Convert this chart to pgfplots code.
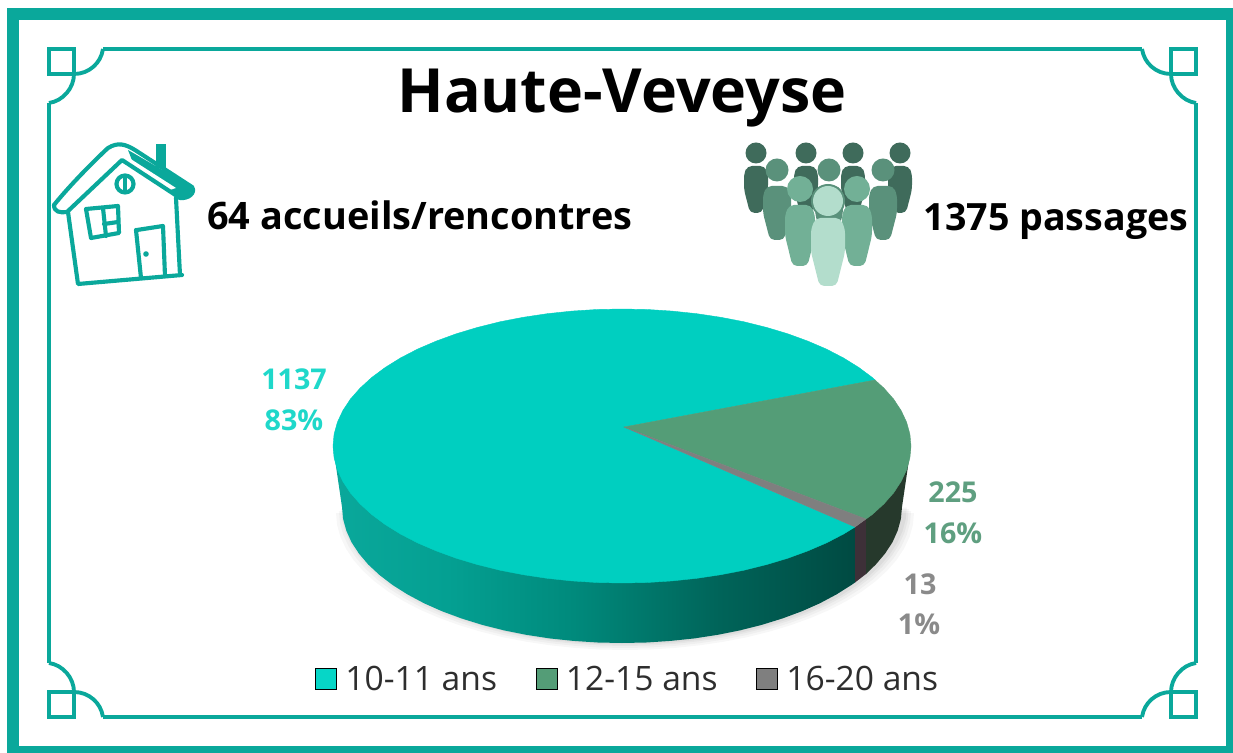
\documentclass[border=0pt]{standalone}
\usepackage{pgfplots}
\pgfplotsset{compat=1.18}
\usepackage{pgfplotstable}
\usepackage{fontspec}
\setmainfont{Open Sans}
\definecolor{frameT}{HTML}{0AA89B}
\definecolor{cTeal}{HTML}{00CFC0}
\definecolor{cLeg}{HTML}{06D6C7}
\definecolor{cGreen}{HTML}{549D77}
\definecolor{cGray}{HTML}{7F7F7F}
\definecolor{lTeal}{HTML}{1FD8CA}
\definecolor{lGreen}{HTML}{5F9F80}
\definecolor{lGray}{HTML}{8A8A8A}
\definecolor{pA}{HTML}{3F6B5B}
\definecolor{pB}{HTML}{5A917B}
\definecolor{pC}{HTML}{72B096}
\definecolor{pD}{HTML}{B3DDCC}
\definecolor{sideA}{HTML}{04A092}
\definecolor{sideB}{HTML}{008A7C}
\definecolor{sideC}{HTML}{006459}
\definecolor{sideD}{HTML}{004A42}
\definecolor{sideGray}{HTML}{3D3038}
\definecolor{sideGreen}{HTML}{26392C}
\pgfdeclarehorizontalshading{sideteal}{100bp}{
 color(0bp)=(frameT);
 color(25bp)=(frameT);
 color(36bp)=(sideA);
 color(48bp)=(sideB);
 color(62bp)=(sideC);
 color(75bp)=(sideD);
 color(100bp)=(sideD)}
\pgfplotstableread{
x y
911 446
909.9 457.9
906.6 469.8
901.1 481.5
893.6 492.9
883.9 503.9
872.3 514.5
858.7 524.6
843.4 534.1
826.4 542.9
807.8 550.9
787.8 558.2
766.5 564.6
744.1 570.2
720.8 574.7
696.8 578.3
672.2 580.9
647.2 582.5
622 583
596.8 582.5
571.8 580.9
547.2 578.3
523.2 574.7
499.9 570.2
477.5 564.6
456.2 558.2
436.2 550.9
417.6 542.9
400.6 534.1
385.3 524.6
371.7 514.5
360.1 503.9
350.4 492.9
342.9 481.5
337.4 469.8
334.1 457.9
333 446
}\halfellipse
\newcommand\person[7]{%
 \fill[#7] (#1,#2) circle (#3);
 \fill[#7,rounded corners=3.5] ({#1-0.72*#4},#5) -- ({#1+0.72*#4},#5) -- ({#1+#4},{#5+0.16*(#6-#5)}) -- ({#1+#4},{#5+0.5*(#6-#5)}) -- ({#1+0.5*#4},#6) -- ({#1-0.5*#4},#6) -- ({#1-#4},{#5+0.5*(#6-#5)}) -- ({#1-#4},{#5+0.16*(#6-#5)}) -- cycle;}
\begin{document}
\begin{tikzpicture}
\useasboundingbox (0,0) rectangle (924.75pt,564.75pt);
\fill[white] (0,0) rectangle (924.75pt,564.75pt);
\begin{axis}[
 at={(0,0)},anchor=south west,
 scale only axis,width=924.75pt,height=564.75pt,
 xmin=0,xmax=1233,ymin=0,ymax=753,y dir=reverse,
 axis lines=none,clip=false,
 legend columns=3,
 legend cell align=left,
 legend style={at={(axis cs:628,679)},anchor=center,draw=none,fill=none,font=\fontsize{25.2}{28}\selectfont,text=black!82,
   /tikz/every even column/.append style={column sep=27pt},
   /tikz/every odd column/.append style={column sep=4.5pt},inner sep=0pt},
 legend image code/.code={\fill[#1] (0pt,-7.8pt) rectangle (15.7pt,7.8pt);},
]
% soft shadow
\addplot[forget plot,fill=black,opacity=.03,draw=none] table[x expr=625+(\thisrow{x}-622)*1.000,y expr=\thisrow{y}+67] {\halfellipse};
\addplot[forget plot,fill=black,opacity=.03,draw=none] table[x expr=625+(\thisrow{x}-622)*0.990,y expr=\thisrow{y}+65] {\halfellipse};
\addplot[forget plot,fill=black,opacity=.035,draw=none] table[x expr=625+(\thisrow{x}-622)*0.982,y expr=\thisrow{y}+63] {\halfellipse};
\addplot[forget plot,fill=black,opacity=.04,draw=none] table[x expr=625+(\thisrow{x}-622)*0.975,y expr=\thisrow{y}+61.5] {\halfellipse};
% sides
\addplot[forget plot,draw=none,shade,shading=sideteal] coordinates {(333,446)(342,507)(343.1,518.9)(346.3,530.6)(351.5,542.2)(358.9,553.5)(368.2,564.5)(379.5,575)(392.6,585)(407.5,594.4)(424,603.2)(442,611.2)(461.4,618.4)(482,624.8)(503.7,630.3)(526.2,634.8)(549.5,638.4)(573.4,640.9)(597.6,642.5)(622,643)(646.4,642.5)(670.6,640.9)(694.5,638.4)(717.8,634.8)(740.3,630.3)(762,624.8)(782.6,618.4)(802,611.2)(820,603.2)(836.5,594.4)(851.4,585)(855,582.5)(855,527)} -- cycle;
\addplot[forget plot,draw=none,fill=sideGray] coordinates {(866,519)(855,527)(855,582.5)(866,574)} -- cycle;
\addplot[forget plot,draw=none,fill=sideGreen] coordinates {(911,446)(902,507)(900.9,518.9)(897.7,530.6)(892.5,542.2)(885.1,553.5)(875.8,564.5)(866,574)(866,519)} -- cycle;
% top faces: 10-11 ans 1137, 12-15 ans 225, 16-20 ans 13
\addplot[forget plot,fill=cTeal,draw=cTeal,line width=.3pt] coordinates {(624,427)(855,527)(843.4,534.1)(826.4,542.9)(807.8,550.9)(787.8,558.2)(766.5,564.6)(744.1,570.2)(720.8,574.7)(696.8,578.3)(672.2,580.9)(647.2,582.5)(622,583)(596.8,582.5)(571.8,580.9)(547.2,578.3)(523.2,574.7)(499.9,570.2)(477.5,564.6)(456.2,558.2)(436.2,550.9)(417.6,542.9)(400.6,534.1)(385.3,524.6)(371.7,514.5)(360.1,503.9)(350.4,492.9)(342.9,481.5)(337.4,469.8)(334.1,457.9)(333,446)(334.1,434.1)(337.4,422.2)(342.9,410.5)(350.4,399.1)(360.1,388.1)(371.7,377.5)(385.3,367.4)(400.6,357.9)(417.6,349.1)(436.2,341.1)(456.2,333.8)(477.5,327.4)(499.9,321.8)(523.2,317.3)(547.2,313.7)(571.8,311.1)(596.8,309.5)(622,309)(647.2,309.5)(672.2,311.1)(696.8,313.7)(720.8,317.3)(744.1,321.8)(766.5,327.4)(787.8,333.8)(807.8,341.1)(826.4,349.1)(843.4,357.9)(858.7,367.4)(872.3,377.5)(875,380)} -- cycle;
\addplot[forget plot,fill=cGreen,draw=cGreen,line width=.3pt] coordinates {(624,427)(875,380)(883.9,388.1)(893.6,399.1)(901.1,410.5)(906.6,422.2)(909.9,434.1)(911,446)(909.9,457.9)(906.6,469.8)(901.1,481.5)(893.6,492.9)(883.9,503.9)(872.3,514.5)(866,519)} -- cycle;
\addplot[forget plot,fill=cGray,draw=cGray,line width=.2pt] coordinates {(624,427)(866,519)(855,527)} -- cycle;
\addlegendimage{fill=cLeg}\addlegendentry{10-11 ans}
\addlegendimage{fill=cGreen}\addlegendentry{12-15 ans}
\addlegendimage{fill=cGray}\addlegendentry{16-20 ans}
% texts
\node[font=\fontsize{45.7}{54}\selectfont\bfseries] at (axis cs:622,98) {Haute-Veveyse};
\node[anchor=base,font=\fontsize{28.4}{32}\selectfont\bfseries] at (axis cs:420,229) {64 accueils/rencontres};
\node[anchor=base,font=\fontsize{28.2}{32}\selectfont\bfseries] at (axis cs:1056,230) {1375 passages};
\node[font=\fontsize{21.5}{24}\selectfont\bfseries,text=lTeal] at (axis cs:294,379) {1137};
\node[font=\fontsize{21.5}{24}\selectfont\bfseries,text=lTeal] at (axis cs:294,420) {83\%};
\node[font=\fontsize{21.5}{24}\selectfont\bfseries,text=lGreen] at (axis cs:953,492) {225};
\node[font=\fontsize{21.5}{24}\selectfont\bfseries,text=lGreen] at (axis cs:953,533) {16\%};
\node[font=\fontsize{21.5}{24}\selectfont\bfseries,text=lGray] at (axis cs:920,584) {13};
\node[font=\fontsize{21.5}{24}\selectfont\bfseries,text=lGray] at (axis cs:919,624) {1\%};
\end{axis}
% decoration, in pixel coordinates from the top left corner
\begin{scope}[shift={(0,564.75pt)},x=.75pt,y=-.75pt]
 % outer frame
 \draw[frameT,line width=9pt] (13,14) rectangle (1232,752);
 % inner frame
 \begin{scope}[frameT,line width=2.9pt]
 \draw (103,49) -- (1142,49);
 \draw (103,717) -- (1142,717);
 \draw (49,103) -- (49,663);
 \draw (1196,103) -- (1196,663);
 \foreach \sx/\sy/\dx/\dy in {1/1/0/0,-1/1/1245/0,1/-1/0/766,-1/-1/1245/766}{
  \begin{scope}[shift={(\dx,\dy)},xscale=\sx,yscale=\sy]
   \draw (49,49) rectangle (74,74);
   \draw (103,49) .. controls (101,63) and (89,74) .. (74,74) .. controls (74,88) and (63,101) .. (49,103);
  \end{scope}
 }
 \end{scope}
 % house
 \begin{scope}[frameT,line width=3.1pt,line cap=round,line join=round]
  \fill[white] (57,206) -- (116,150) -- (188,196) -- (178,200) -- (122,160) -- (67,212) -- cycle;
  \fill (156,144) rectangle (166,168);
  \fill (128,150) -- (192,187) -- (190,195) -- (181,198) -- (135,168) -- cycle;
  \fill[white] (126,156) -- (176,188) -- (170,190) -- (124,160) -- cycle;
  \draw (54,205) .. controls (70,185) and (95,160) .. (108,148) .. controls (118,142) and (125,144) .. (135,150) -- (192,187) .. controls (196,193) and (188,199) .. (180,198);
  \draw (54,205) .. controls (54,212) and (60,213) .. (67,212) -- (122,160) -- (180,198);
  \draw (68,212) -- (78,284) -- (182,275);
  \draw (176,198) -- (180,275);
  \draw (137,230) -- (163,226) -- (165,276);
  \draw (136,230) -- (141,278);
  \fill (146,254) circle (2.8);
  \draw (86,209) -- (118,206) -- (119,233) -- (91,238) -- cycle;
  \draw (103,208) -- (106,236);
  \draw (104,224) -- (118,222);
  \draw (125,184) circle (8.5);
  \draw (125,178) -- (125,190);
 \end{scope}
 % people
 \person{756}{153}{10.5}{12}{166}{213}{pA}
 \person{806}{153}{10.5}{12}{166}{213}{pA}
 \person{853}{153}{10.5}{12}{166}{213}{pA}
 \person{900}{153}{10.5}{12}{166}{213}{pA}
 \person{777}{170}{11.5}{14}{186}{240}{pB}
 \person{829}{170}{11.5}{14}{186}{240}{pB}
 \person{883}{170}{11.5}{14}{186}{240}{pB}
 \person{800}{189}{13}{15}{205}{266}{pC}
 \person{857}{189}{13}{15}{205}{266}{pC}
 \fill[pB] (828,201) circle (17);
 \person{828}{201}{15}{17}{218}{286}{pD}
\end{scope}
\end{tikzpicture}
\end{document}
